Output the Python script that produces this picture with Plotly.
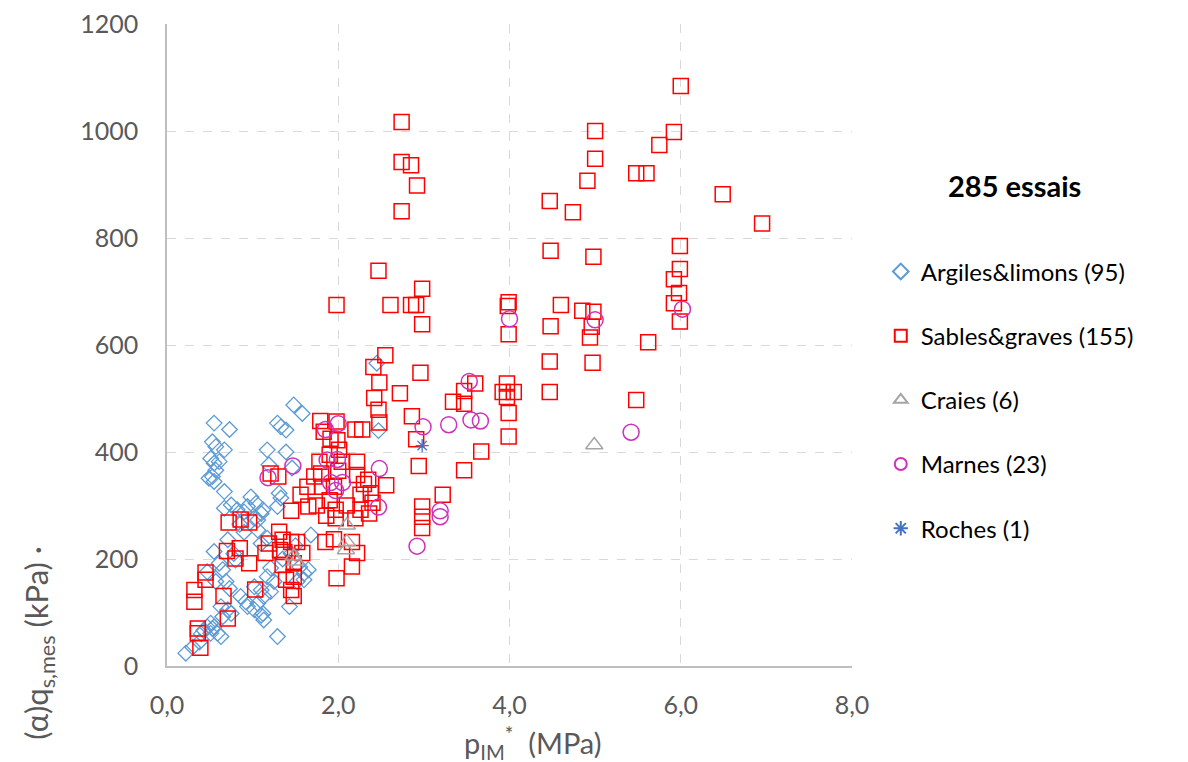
import plotly.graph_objects as go

# ---------------- data ----------------
argiles_x = [1.48, 1.58, 0.55, 0.73, 1.29, 1.33, 1.39, 0.53, 0.57, 0.67, 0.51, 0.55, 0.61, 0.57, 0.49, 0.53,
             0.55, 1.17, 1.39, 1.19, 1.46, 0.67, 0.98, 1.04, 1.31, 1.33, 1.29, 0.67, 0.75, 0.82, 0.90, 1.12,
             0.55, 0.61, 0.80, 0.47, 0.57, 0.69, 0.73, 0.86, 0.92, 0.94, 1.02, 1.10, 1.13, 1.17, 1.25, 1.21,
             1.02, 1.10, 0.63, 0.71, 0.75, 0.51, 0.53, 0.59, 0.43, 0.47, 0.22, 0.38, 1.29, 1.43, 1.10, 1.17,
             0.71, 1.06, 1.02, 1.10, 1.21, 1.52, 1.60, 1.68, 1.60, 2.45, 2.47, 0.94, 1.06, 1.13, 1.06, 1.12,
             0.65, 0.55, 0.51, 0.63, 0.85, 0.90, 1.45, 1.35, 1.50, 1.55, 1.65, 0.78, 0.65, 0.40, 0.30]
argiles_y = [488, 472, 454, 442, 454, 447, 441, 419, 410, 404, 388, 379, 382, 366, 351, 354,
             345, 404, 400, 376, 370, 326, 316, 304, 323, 314, 298, 295, 301, 292, 288, 292,
             214, 192, 198, 176, 158, 158, 145, 130, 120, 111, 105, 95, 86, 167, 158, 139,
             148, 142, 111, 105, 98, 80, 70, 61, 67, 73, 24, 45, 55, 111, 229, 239,
             236, 254, 276, 285, 183, 158, 173, 245, 161, 566, 440, 298, 273, 130, 117, 98,
             92, 73, 61, 55, 265, 250, 210, 200, 225, 185, 180, 210, 180, 60, 35]

sables_x = [6.00, 2.74, 5.00, 5.92, 5.75, 5.00, 2.74, 2.85, 2.92, 4.91, 5.48, 5.60, 2.74, 4.47, 4.74, 6.49,
            6.95, 4.48, 4.98, 5.99, 5.99, 5.92, 5.98, 5.92, 5.99, 2.47, 1.98, 2.61, 2.85, 2.91, 2.98, 2.98,
            3.99, 3.98, 3.99, 4.60, 4.48, 4.85, 4.98, 4.96, 4.94, 5.62, 2.55, 4.47, 4.97, 2.41, 2.48, 2.42,
            2.47, 2.48, 2.72, 2.96, 2.86, 2.91, 2.94, 3.60, 3.47, 3.34, 3.47, 3.97, 3.92, 4.05, 3.97, 3.99,
            3.99, 4.47, 5.48, 3.67, 3.47, 3.22, 2.98, 2.98, 2.98, 1.79, 1.98, 1.83, 2.20, 2.28, 1.99, 2.01,
            1.91, 1.78, 2.04, 2.22, 2.22, 1.21, 1.30, 1.72, 2.35, 2.56, 1.56, 1.64, 1.81, 1.95, 2.26, 2.38,
            1.45, 1.65, 1.86, 1.97, 1.97, 2.20, 2.26, 2.36, 0.72, 0.86, 0.96, 1.31, 1.45, 1.52, 1.19, 1.85,
            1.95, 2.16, 2.22, 2.16, 1.98, 0.70, 0.85, 0.80, 0.96, 1.15, 1.32, 1.35, 1.58, 1.48, 1.39, 1.48,
            1.45, 1.48, 0.45, 0.45, 0.32, 0.32, 0.66, 1.03, 0.71, 0.36, 0.36, 0.39, 1.37, 1.35, 1.90, 2.10,
            1.75, 2.40, 1.80, 2.00, 1.90, 2.30]
sables_y = [1084, 1017, 1000, 998, 974, 948, 942, 936, 898, 907, 921, 921, 850, 869, 848, 882,
            827, 776, 765, 785, 742, 723, 697, 678, 644, 739, 675, 675, 675, 675, 705, 639,
            680, 673, 620, 675, 635, 664, 662, 634, 614, 605, 581, 569, 567, 559, 530, 501,
            479, 455, 510, 548, 467, 424, 374, 528, 514, 494, 490, 528, 512, 512, 503, 473,
            429, 512, 497, 401, 366, 320, 298, 279, 258, 458, 457, 438, 442, 442, 422, 404,
            425, 382, 382, 382, 357, 360, 354, 354, 348, 338, 320, 335, 335, 335, 320, 323,
            290, 298, 281, 292, 276, 276, 292, 285, 268, 274, 268, 251, 232, 232, 229, 232,
            237, 232, 211, 186, 164, 215, 220, 201, 192, 211, 217, 236, 211, 192, 161, 167,
            142, 131, 175, 161, 142, 120, 131, 143, 89, 70, 61, 34, 213, 189, 310, 300,
            300, 305, 360, 365, 395, 340]

craies_x = [4.99, 1.48, 1.50, 2.10, 2.10, 2.09]
craies_y = [413, 205, 196, 263, 232, 217]

marnes_x = [4.00, 5.00, 6.02, 5.42, 3.53, 3.29, 3.55, 3.66, 2.99, 3.19, 3.19, 2.92, 2.48, 2.47, 2.00, 1.85,
            1.87, 1.99, 1.47, 1.18, 1.91, 2.05, 1.97]
marnes_y = [649, 647, 667, 437, 532, 451, 460, 458, 447, 290, 279, 224, 369, 297, 453, 442,
            385, 386, 374, 352, 343, 343, 328]

roches_x = [2.98]
roches_y = [412]

series_names = ["Argiles&limons (95)", "Sables&graves (155)", "Craies (6)", "Marnes (23)", "Roches (1)"]
x_ticks = [0, 2, 4, 6, 8]
x_tick_labels = ["0,0", "2,0", "4,0", "6,0", "8,0"]
y_ticks = [0, 200, 400, 600, 800, 1000, 1200]

FONT = "Lato"

fig = go.Figure()
fig.add_trace(go.Scatter(x=argiles_x, y=argiles_y, mode="markers", name=series_names[0], legendgroup="a",
                         marker=dict(symbol="diamond-open", size=12, color="#5B9BD5", line=dict(width=1.3))))
fig.add_trace(go.Scatter(x=sables_x, y=sables_y, mode="markers", name=series_names[1], legendgroup="b",
                         marker=dict(symbol="square-open", size=15, color="#FF0000", line=dict(width=1.5))))
fig.add_trace(go.Scatter(x=craies_x, y=craies_y, mode="markers", name=series_names[2], legendgroup="c",
                         marker=dict(symbol="triangle-up-open", size=15, color="#A5A5A5", line=dict(width=1.5))))
fig.add_trace(go.Scatter(x=marnes_x, y=marnes_y, mode="markers", name=series_names[3], legendgroup="d",
                         marker=dict(symbol="circle-open", size=16, color="#CC33BB", line=dict(width=1.5))))
fig.add_trace(go.Scatter(x=roches_x, y=roches_y, mode="markers", name=series_names[4], legendgroup="e",
                         marker=dict(symbol="asterisk-open", size=11, color="#4472C4", line=dict(width=1.3))))

axis_common = dict(showgrid=True, gridcolor="#D9D9D9", griddash="dash", gridwidth=1,
                   zeroline=False, showline=True, linecolor="#BFBFBF", linewidth=1.5,
                   ticks="", automargin=False, ticklabeloverflow="allow",
                   tickfont=dict(family=FONT, size=25, color="#595959"))

fig.update_xaxes(range=[0, 8], tickvals=x_ticks, ticktext=x_tick_labels, ticklabelstandoff=16, **axis_common)
fig.update_yaxes(range=[0, 1200.01], tickvals=y_ticks, ticklabelstandoff=22, **axis_common)

# axis titles
fig.add_annotation(text="p<sub>IM</sub><sup>*</sup> &nbsp;(MPa)", xref="paper", yref="paper",
                   x=0.534, y=-0.12, xanchor="center", yanchor="middle", showarrow=False,
                   font=dict(family=FONT, size=29, color="#595959"))
fig.add_annotation(text="(α)q<sub>s,mes</sub> (kPa) ·",
                   textangle=-90, xref="paper", yref="paper",
                   x=-0.1876, y=0.037, xanchor="center", yanchor="middle", showarrow=False,
                   font=dict(family=FONT, size=31, color="#595959"))
fig.add_annotation(text="<b>285 essais</b>", xref="paper", yref="paper", x=1.2365, y=0.748,
                   xanchor="center", yanchor="middle", showarrow=False,
                   font=dict(family=FONT, size=29, color="#000000"))

fig.update_layout(
    width=1188, height=762,
    margin=dict(l=159, r=344, t=16, b=104),
    plot_bgcolor="white", paper_bgcolor="white",
    showlegend=True,
    legend=dict(x=1.042, y=0.649, xanchor="left", yanchor="top",
                font=dict(family=FONT, size=24, color="#000000"),
                tracegroupgap=30, itemsizing="constant", bgcolor="rgba(0,0,0,0)"),
)

fig.write_html("out.html")
